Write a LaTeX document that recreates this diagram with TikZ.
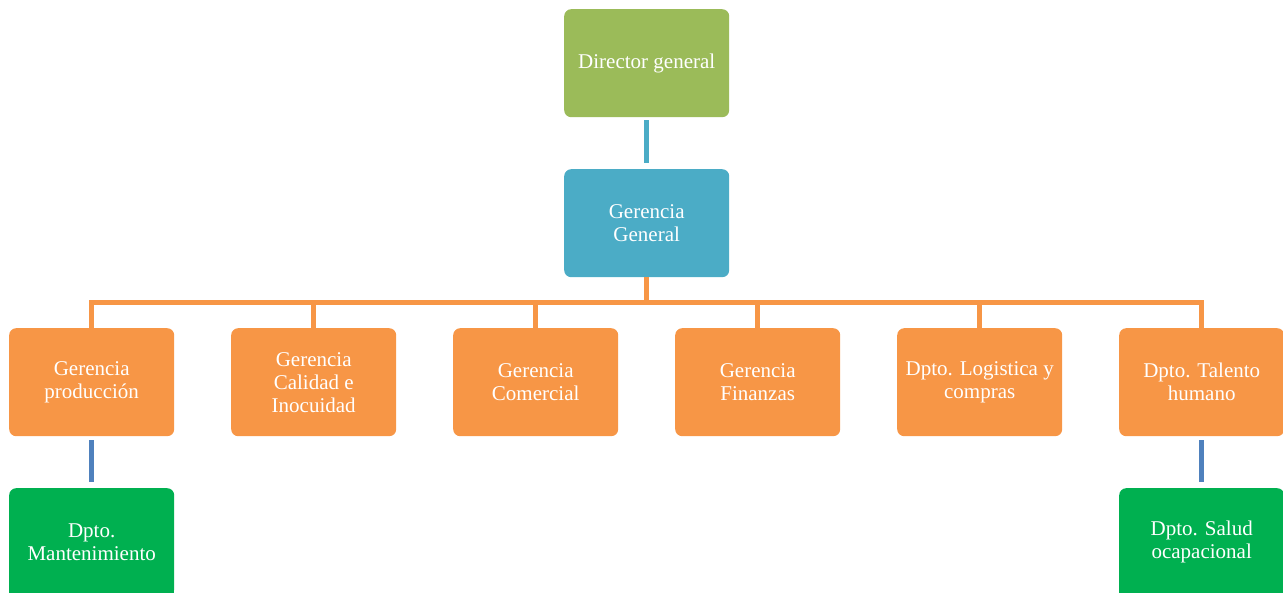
\documentclass[tikz,border=0pt]{standalone}
\usepackage{fontspec}
\setmainfont{Liberation Serif}
\definecolor{cgreenolive}{HTML}{9BBB59}
\definecolor{cteal}{HTML}{4BACC6}
\definecolor{corange}{HTML}{F79646}
\definecolor{cblue}{HTML}{4F81BD}
\definecolor{cgreen}{HTML}{00B050}
\begin{document}
\begin{tikzpicture}[x=1pt,y=-1pt,
  box/.style={rounded corners=7pt, minimum width=165pt, minimum height=108pt,
    inner sep=0pt, text=white, align=center, font=\fontsize{21}{23}\selectfont, anchor=north west},
  link/.style={line width=5pt}]
\useasboundingbox (0,0) rectangle (1283,592);
\clip (0,0) rectangle (1283,592);
\node[box, fill=cgreenolive] (dir) at (564,9) {Director general};
\node[box, fill=cteal] (gg) at (564,169) {Gerencia\\General};
\node[box, fill=corange] (g1) at (9,328) {Gerencia\\producción};
\node[box, fill=corange] (g2) at (231,328) {Gerencia\\Calidad e\\Inocuidad};
\node[box, fill=corange] (g3) at (453,328) {Gerencia\\Comercial};
\node[box, fill=corange] (g4) at (675,328) {Gerencia\\Finanzas};
\node[box, fill=corange] (g5) at (897,328) {Dpto. Logistica y\\compras};
\node[box, fill=corange] (g6) at (1119,328) {Dpto. Talento\\humano};
% the lower boxes run past the bottom edge: square them off below
\fill[cgreen] (9,540) rectangle (174,600);
\fill[cgreen] (1119,540) rectangle (1284,600);
\node[box, fill=cgreen] (d1) at (9,488) {Dpto.\\Mantenimiento};
\node[box, fill=cgreen] (d6) at (1119,488) {Dpto. Salud\\ocapacional};
% connectors
\draw[link, cteal] ([yshift=-3pt]dir.south) -- ([yshift=6pt]gg.north);
\coordinate (bar) at (0,302);
\draw[link, corange] (gg.south) -- (gg.south |- bar);
\draw[link, corange, line join=miter]
  ([yshift=-6pt]g1.north) -- (g1.north |- bar) -- (g6.north |- bar) -- ([yshift=-6pt]g6.north);
\foreach \n in {g2,g3,g4,g5}
  \draw[link, corange] (\n.north |- bar) -- ([yshift=-6pt]\n.north);
\draw[link, cblue] ([yshift=-4pt]g1.south) -- ([yshift=6pt]d1.north);
\draw[link, cblue] ([yshift=-4pt]g6.south) -- ([yshift=6pt]d6.north);
\end{tikzpicture}
\end{document}
